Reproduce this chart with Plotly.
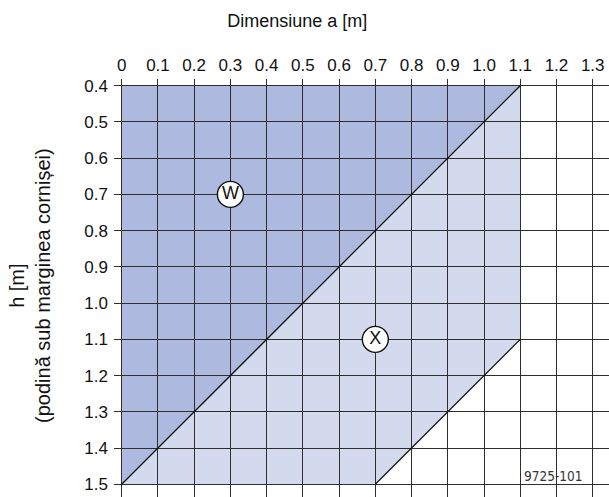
import plotly.graph_objects as go

# ---- data ----
x_ticks = [0, 0.1, 0.2, 0.3, 0.4, 0.5, 0.6, 0.7, 0.8, 0.9, 1.0, 1.1, 1.2, 1.3]
x_tick_labels = ["0", "0.1", "0.2", "0.3", "0.4", "0.5", "0.6", "0.7", "0.8", "0.9", "1.0", "1.1", "1.2", "1.3"]
h_ticks = [0.4, 0.5, 0.6, 0.7, 0.8, 0.9, 1.0, 1.1, 1.2, 1.3, 1.4, 1.5]
h_tick_labels = ["0.4", "0.5", "0.6", "0.7", "0.8", "0.9", "1.0", "1.1", "1.2", "1.3", "1.4", "1.5"]

# zone W (dark)
zone_w_a = [0, 1.1, 0]
zone_w_h = [0.4, 0.4, 1.5]
# zone X (light)
zone_x_a = [0, 1.1, 1.1, 0.7]
zone_x_h = [1.5, 0.4, 1.1, 1.5]
# boundary lines
line1_a = [0, 1.1]
line1_h = [1.5, 0.4]
line2_a = [0.7, 1.1]
line2_h = [1.5, 1.1]
# zone labels
label_a = [0.3, 0.7]
label_h = [0.7, 1.1]
label_text = ["W", "X"]

code_text = "9725-101"
code_a = 1.19
code_h = 1.476

FONT = "Liberation Sans, Arial, sans-serif"
DARK = "#adb9de"
LIGHT = "#d4daee"
GRID = "#2e2e2e"


def path_from(xs, ys):
    pts = [f"{x},{y}" for x, y in zip(xs, ys)]
    return "M " + " L ".join(pts) + " Z"


fig = go.Figure()

fig.add_trace(go.Scatter(x=line1_a, y=line1_h, mode="lines",
                         line=dict(color="#111111", width=1.3),
                         hoverinfo="skip", showlegend=False))
fig.add_trace(go.Scatter(x=line2_a, y=line2_h, mode="lines",
                         line=dict(color="#111111", width=1.3),
                         hoverinfo="skip", showlegend=False))
fig.add_trace(go.Scatter(x=label_a, y=label_h, mode="markers+text",
                         text=label_text, textposition="middle center",
                         textfont=dict(family=FONT, size=18, color="#111111"),
                         marker=dict(size=26, color="white",
                                     line=dict(color="#111111", width=1.4)),
                         hoverinfo="skip", showlegend=False))

fig.add_shape(type="path", path=path_from(zone_x_a, zone_x_h), xref="x", yref="y",
              fillcolor=LIGHT, line=dict(width=0), layer="below")
fig.add_shape(type="path", path=path_from(zone_w_a, zone_w_h), xref="x", yref="y",
              fillcolor=DARK, line=dict(width=0), layer="below")

fig.add_annotation(x=code_a, y=code_h, xref="x", yref="y", text=code_text,
                   showarrow=False, xanchor="center", yanchor="middle",
                   font=dict(family="Liberation Sans Narrow, DejaVu Sans Condensed, sans-serif",
                             size=13.5, color="#333333"))

fig.add_annotation(x=-0.17, y=0.507, xref="paper", yref="paper",
                   xanchor="center", yanchor="middle",
                   text="h [m]<br>(podină sub marginea cornișei)",
                   textangle=-90, showarrow=False, align="center",
                   font=dict(family=FONT, size=20, color="#111111"))

fig.update_layout(
    width=609, height=497,
    margin=dict(l=114, r=0, t=79, b=0, autoexpand=False),
    paper_bgcolor="white", plot_bgcolor="white",
    title=dict(text="Dimensiune a [m]", xref="container", yref="container",
               x=0.488, y=1 - 21 / 497, xanchor="center", yanchor="middle",
               font=dict(family=FONT, size=18, color="#111111")),
    xaxis=dict(side="top", range=[-0.0213, 1.345], tickmode="array",
               tickvals=x_ticks, ticktext=x_tick_labels,
               showgrid=True, gridcolor=GRID, gridwidth=1,
               zeroline=False, showline=False, ticks="",
               tickfont=dict(family=FONT, size=17, color="#111111"),
               ticklabelstandoff=4, fixedrange=True),
    yaxis=dict(range=[1.535, 0.3815], tickmode="array",
               tickvals=h_ticks, ticktext=h_tick_labels,
               showgrid=True, gridcolor=GRID, gridwidth=1,
               zeroline=False, showline=False, ticks="",
               tickfont=dict(family=FONT, size=17, color="#111111"),
               ticklabelstandoff=5, fixedrange=True),
    showlegend=False,
)

fig.write_html("out.html",
               config={"displayModeBar": False, "staticPlot": True},
               post_script="document.body.style.margin='0';document.body.style.overflow='hidden';")
